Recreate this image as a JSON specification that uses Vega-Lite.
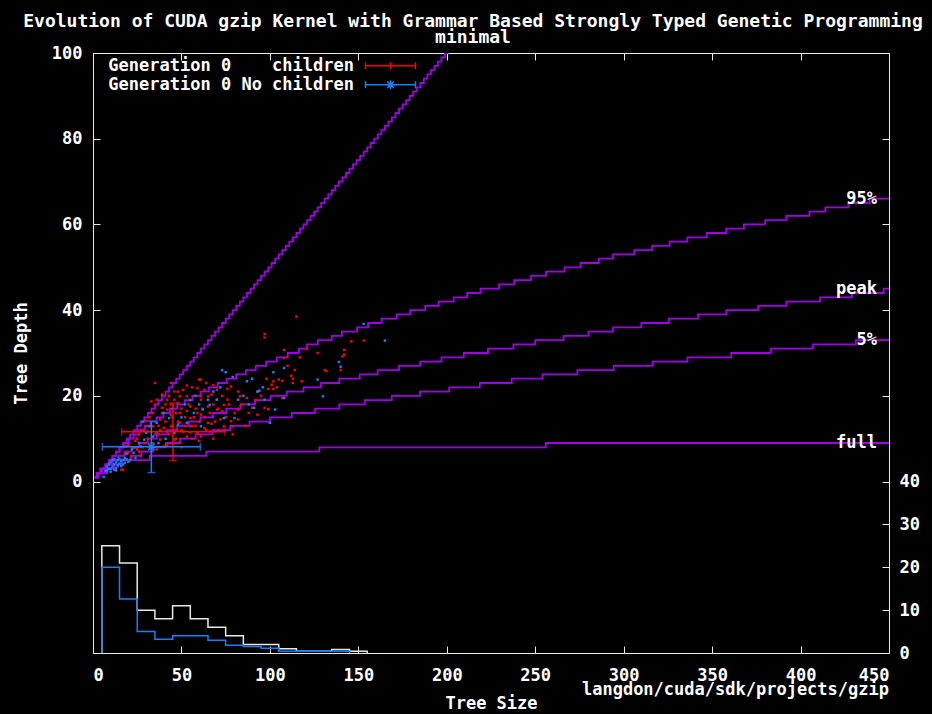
{
"$schema": "https://vega.github.io/schema/vega-lite/v6.json",
"width": 796, "height": 600,
"autosize": "none",
"padding": {"left": 93, "top": 53, "right": 43, "bottom": 61},
"background": "black",
"title": {"text": "Evolution of CUDA gzip Kernel with Grammar Based Strongly Typed Genetic Programming", "subtitle": "minimal", "color": "white", "subtitleColor": "white", "font": "DejaVu Sans Mono", "subtitleFont": "DejaVu Sans Mono", "fontSize": 18, "subtitleFontSize": 18, "fontWeight": "bold", "subtitleFontWeight": "bold", "subtitlePadding": -2, "anchor": "middle", "frame": "group", "offset": -3, "dx": -18},
"config": {
  "view": {"stroke": "#e8e8e8", "strokeWidth": 1, "fill": "black"},
  "axis": {"domain": false, "grid": false, "tickColor": "#e8e8e8", "tickSize": -7, "labelColor": "white", "labelFont": "DejaVu Sans Mono", "labelFontSize": 17, "labelFontWeight": "bold", "titleColor": "white", "titleFont": "DejaVu Sans Mono", "titleFontSize": 17, "titleFontWeight": "bold"},
  "legend": {"labelColor": "white", "labelFont": "DejaVu Sans Mono", "labelFontSize": 17, "labelFontWeight": "bold", "labelLimit": 0, "padding": 0, "rowPadding": -1, "symbolOpacity": 1, "symbolStrokeWidth": 1.5, "symbolSize": 400}
},
"datasets": {
"curves": [
{"curve":"diag","size":1,"depth":1},{"curve":"diag","size":3,"depth":2},{"curve":"diag","size":5,"depth":3},{"curve":"diag","size":7,"depth":4},{"curve":"diag","size":9,"depth":5},{"curve":"diag","size":11,"depth":6},{"curve":"diag","size":13,"depth":7},{"curve":"diag","size":15,"depth":8},{"curve":"diag","size":17,"depth":9},{"curve":"diag","size":19,"depth":10},
{"curve":"diag","size":21,"depth":11},{"curve":"diag","size":23,"depth":12},{"curve":"diag","size":25,"depth":13},{"curve":"diag","size":27,"depth":14},{"curve":"diag","size":29,"depth":15},{"curve":"diag","size":31,"depth":16},{"curve":"diag","size":33,"depth":17},{"curve":"diag","size":35,"depth":18},{"curve":"diag","size":37,"depth":19},{"curve":"diag","size":39,"depth":20},
{"curve":"diag","size":41,"depth":21},{"curve":"diag","size":43,"depth":22},{"curve":"diag","size":45,"depth":23},{"curve":"diag","size":47,"depth":24},{"curve":"diag","size":49,"depth":25},{"curve":"diag","size":51,"depth":26},{"curve":"diag","size":53,"depth":27},{"curve":"diag","size":55,"depth":28},{"curve":"diag","size":57,"depth":29},{"curve":"diag","size":59,"depth":30},
{"curve":"diag","size":61,"depth":31},{"curve":"diag","size":63,"depth":32},{"curve":"diag","size":65,"depth":33},{"curve":"diag","size":67,"depth":34},{"curve":"diag","size":69,"depth":35},{"curve":"diag","size":71,"depth":36},{"curve":"diag","size":73,"depth":37},{"curve":"diag","size":75,"depth":38},{"curve":"diag","size":77,"depth":39},{"curve":"diag","size":79,"depth":40},
{"curve":"diag","size":81,"depth":41},{"curve":"diag","size":83,"depth":42},{"curve":"diag","size":85,"depth":43},{"curve":"diag","size":87,"depth":44},{"curve":"diag","size":89,"depth":45},{"curve":"diag","size":91,"depth":46},{"curve":"diag","size":93,"depth":47},{"curve":"diag","size":95,"depth":48},{"curve":"diag","size":97,"depth":49},{"curve":"diag","size":99,"depth":50},
{"curve":"diag","size":101,"depth":51},{"curve":"diag","size":103,"depth":52},{"curve":"diag","size":105,"depth":53},{"curve":"diag","size":107,"depth":54},{"curve":"diag","size":109,"depth":55},{"curve":"diag","size":111,"depth":56},{"curve":"diag","size":113,"depth":57},{"curve":"diag","size":115,"depth":58},{"curve":"diag","size":117,"depth":59},{"curve":"diag","size":119,"depth":60},
{"curve":"diag","size":121,"depth":61},{"curve":"diag","size":123,"depth":62},{"curve":"diag","size":125,"depth":63},{"curve":"diag","size":127,"depth":64},{"curve":"diag","size":129,"depth":65},{"curve":"diag","size":131,"depth":66},{"curve":"diag","size":133,"depth":67},{"curve":"diag","size":135,"depth":68},{"curve":"diag","size":137,"depth":69},{"curve":"diag","size":139,"depth":70},
{"curve":"diag","size":141,"depth":71},{"curve":"diag","size":143,"depth":72},{"curve":"diag","size":145,"depth":73},{"curve":"diag","size":147,"depth":74},{"curve":"diag","size":149,"depth":75},{"curve":"diag","size":151,"depth":76},{"curve":"diag","size":153,"depth":77},{"curve":"diag","size":155,"depth":78},{"curve":"diag","size":157,"depth":79},{"curve":"diag","size":159,"depth":80},
{"curve":"diag","size":161,"depth":81},{"curve":"diag","size":163,"depth":82},{"curve":"diag","size":165,"depth":83},{"curve":"diag","size":167,"depth":84},{"curve":"diag","size":169,"depth":85},{"curve":"diag","size":171,"depth":86},{"curve":"diag","size":173,"depth":87},{"curve":"diag","size":175,"depth":88},{"curve":"diag","size":177,"depth":89},{"curve":"diag","size":179,"depth":90},
{"curve":"diag","size":181,"depth":91},{"curve":"diag","size":183,"depth":92},{"curve":"diag","size":185,"depth":93},{"curve":"diag","size":187,"depth":94},{"curve":"diag","size":189,"depth":95},{"curve":"diag","size":191,"depth":96},{"curve":"diag","size":193,"depth":97},{"curve":"diag","size":195,"depth":98},{"curve":"diag","size":197,"depth":99},{"curve":"diag","size":199,"depth":100},{"curve":"diag","size":201,"depth":100},
{"curve":"95%","size":1,"depth":1},{"curve":"95%","size":3,"depth":2},{"curve":"95%","size":5,"depth":3},{"curve":"95%","size":7,"depth":4},{"curve":"95%","size":9,"depth":5},{"curve":"95%","size":11,"depth":6},{"curve":"95%","size":13,"depth":7},{"curve":"95%","size":15,"depth":8},{"curve":"95%","size":17.5,"depth":9},{"curve":"95%","size":20.3,"depth":10},
{"curve":"95%","size":23,"depth":11},{"curve":"95%","size":26,"depth":12},{"curve":"95%","size":29.2,"depth":13},{"curve":"95%","size":32.5,"depth":14},{"curve":"95%","size":36,"depth":15},{"curve":"95%","size":39.7,"depth":16},{"curve":"95%","size":43.5,"depth":17},{"curve":"95%","size":47.6,"depth":18},{"curve":"95%","size":51.8,"depth":19},{"curve":"95%","size":56.2,"depth":20},
{"curve":"95%","size":60.8,"depth":21},{"curve":"95%","size":65.5,"depth":22},{"curve":"95%","size":70.5,"depth":23},{"curve":"95%","size":75.6,"depth":24},{"curve":"95%","size":80.9,"depth":25},{"curve":"95%","size":86.4,"depth":26},{"curve":"95%","size":92,"depth":27},{"curve":"95%","size":97.9,"depth":28},{"curve":"95%","size":103.9,"depth":29},{"curve":"95%","size":110.1,"depth":30},
{"curve":"95%","size":116.4,"depth":31},{"curve":"95%","size":121,"depth":32},{"curve":"95%","size":127.1,"depth":33},{"curve":"95%","size":135,"depth":34},{"curve":"95%","size":140.7,"depth":35},{"curve":"95%","size":149.3,"depth":36},{"curve":"95%","size":155.5,"depth":37},{"curve":"95%","size":163.2,"depth":38},{"curve":"95%","size":171.7,"depth":39},{"curve":"95%","size":179.3,"depth":40},
{"curve":"95%","size":187.8,"depth":41},{"curve":"95%","size":195.4,"depth":42},{"curve":"95%","size":203.9,"depth":43},{"curve":"95%","size":211.5,"depth":44},{"curve":"95%","size":219.1,"depth":45},{"curve":"95%","size":229.6,"depth":46},{"curve":"95%","size":238.1,"depth":47},{"curve":"95%","size":247.6,"depth":48},{"curve":"95%","size":256.1,"depth":49},{"curve":"95%","size":266.6,"depth":50},
{"curve":"95%","size":275.6,"depth":51},{"curve":"95%","size":285.9,"depth":52},{"curve":"95%","size":294,"depth":53},{"curve":"95%","size":306,"depth":54},{"curve":"95%","size":316,"depth":55},{"curve":"95%","size":326,"depth":56},{"curve":"95%","size":336,"depth":57},{"curve":"95%","size":347,"depth":58},{"curve":"95%","size":358,"depth":59},{"curve":"95%","size":368,"depth":60},
{"curve":"95%","size":380,"depth":61},{"curve":"95%","size":392,"depth":62},{"curve":"95%","size":405,"depth":63},{"curve":"95%","size":414,"depth":64},{"curve":"95%","size":427,"depth":65},{"curve":"95%","size":439,"depth":66},{"curve":"95%","size":450,"depth":66},
{"curve":"peak","size":1,"depth":1},{"curve":"peak","size":3,"depth":2},{"curve":"peak","size":5,"depth":3},{"curve":"peak","size":8,"depth":4},{"curve":"peak","size":11.2,"depth":5},{"curve":"peak","size":14.3,"depth":6},{"curve":"peak","size":17.9,"depth":7},{"curve":"peak","size":21.9,"depth":8},{"curve":"peak","size":26.2,"depth":9},{"curve":"peak","size":31,"depth":10},
{"curve":"peak","size":36.1,"depth":11},{"curve":"peak","size":41.7,"depth":12},{"curve":"peak","size":47.6,"depth":13},{"curve":"peak","size":54,"depth":14},{"curve":"peak","size":60.7,"depth":15},{"curve":"peak","size":67.9,"depth":16},{"curve":"peak","size":75.4,"depth":17},{"curve":"peak","size":83.3,"depth":18},{"curve":"peak","size":91.6,"depth":19},{"curve":"peak","size":100.4,"depth":20},
{"curve":"peak","size":109.5,"depth":21},{"curve":"peak","size":119,"depth":22},{"curve":"peak","size":128.9,"depth":23},{"curve":"peak","size":139.2,"depth":24},{"curve":"peak","size":150.8,"depth":25},{"curve":"peak","size":160.9,"depth":26},{"curve":"peak","size":173,"depth":27},{"curve":"peak","size":185,"depth":28},{"curve":"peak","size":197,"depth":29},{"curve":"peak","size":209.6,"depth":30},
{"curve":"peak","size":223.3,"depth":31},{"curve":"peak","size":237.7,"depth":32},{"curve":"peak","size":250,"depth":33},{"curve":"peak","size":266.1,"depth":34},{"curve":"peak","size":280,"depth":35},{"curve":"peak","size":294,"depth":36},{"curve":"peak","size":310,"depth":37},{"curve":"peak","size":325.5,"depth":38},{"curve":"peak","size":342,"depth":39},{"curve":"peak","size":358,"depth":40},
{"curve":"peak","size":376,"depth":41},{"curve":"peak","size":392,"depth":42},{"curve":"peak","size":411,"depth":43},{"curve":"peak","size":429,"depth":44},{"curve":"peak","size":447,"depth":45},{"curve":"peak","size":450,"depth":45},
{"curve":"5%","size":1,"depth":1},{"curve":"5%","size":3,"depth":2},{"curve":"5%","size":8,"depth":3},{"curve":"5%","size":11.8,"depth":4},{"curve":"5%","size":16.2,"depth":5},{"curve":"5%","size":21.4,"depth":6},{"curve":"5%","size":27.3,"depth":7},{"curve":"5%","size":33.9,"depth":8},{"curve":"5%","size":41.2,"depth":9},{"curve":"5%","size":49.2,"depth":10},
{"curve":"5%","size":58,"depth":11},{"curve":"5%","size":67.5,"depth":12},{"curve":"5%","size":77.6,"depth":13},{"curve":"5%","size":88.5,"depth":14},{"curve":"5%","size":100.1,"depth":15},{"curve":"5%","size":112.4,"depth":16},{"curve":"5%","size":125.5,"depth":17},{"curve":"5%","size":139.2,"depth":18},{"curve":"5%","size":153.7,"depth":19},{"curve":"5%","size":168.9,"depth":20},
{"curve":"5%","size":184.8,"depth":21},{"curve":"5%","size":201.4,"depth":22},{"curve":"5%","size":218.7,"depth":23},{"curve":"5%","size":236.7,"depth":24},{"curve":"5%","size":254.2,"depth":25},{"curve":"5%","size":273.8,"depth":26},{"curve":"5%","size":294.4,"depth":27},{"curve":"5%","size":316.4,"depth":28},{"curve":"5%","size":336.1,"depth":29},{"curve":"5%","size":360.8,"depth":30},
{"curve":"5%","size":383.2,"depth":31},{"curve":"5%","size":407,"depth":32},{"curve":"5%","size":431.2,"depth":33},{"curve":"5%","size":450,"depth":33},
{"curve":"full","size":1,"depth":1},{"curve":"full","size":2,"depth":2},{"curve":"full","size":4,"depth":3},{"curve":"full","size":8,"depth":4},{"curve":"full","size":16,"depth":5},{"curve":"full","size":32,"depth":6},{"curve":"full","size":64,"depth":7},{"curve":"full","size":128,"depth":8},{"curve":"full","size":256,"depth":9},{"curve":"full","size":450,"depth":9}
],
"hist": [
{"series":"all","i":0,"size":5,"count":0},{"series":"all","i":1,"size":5,"count":25},{"series":"all","i":2,"size":15,"count":21},{"series":"all","i":3,"size":25,"count":10},{"series":"all","i":4,"size":35,"count":8},{"series":"all","i":5,"size":45,"count":11},{"series":"all","i":6,"size":55,"count":8},{"series":"all","i":7,"size":65,"count":6},{"series":"all","i":8,"size":75,"count":4},{"series":"all","i":9,"size":85,"count":2},{"series":"all","i":10,"size":105,"count":1},{"series":"all","i":11,"size":115,"count":0.4},{"series":"all","i":12,"size":135,"count":0.8},{"series":"all","i":13,"size":145,"count":0.4},{"series":"all","i":14,"size":155,"count":0},
{"series":"nc","i":0,"size":5,"count":0},{"series":"nc","i":1,"size":5,"count":20},{"series":"nc","i":2,"size":15,"count":12.6},{"series":"nc","i":3,"size":25,"count":5},{"series":"nc","i":4,"size":35,"count":3.2},{"series":"nc","i":5,"size":45,"count":4},{"series":"nc","i":6,"size":65,"count":3},{"series":"nc","i":7,"size":75,"count":1.8},{"series":"nc","i":8,"size":85,"count":1.5},{"series":"nc","i":9,"size":95,"count":1.1},{"series":"nc","i":10,"size":105,"count":0.4},{"series":"nc","i":11,"size":145,"count":0}
],
"bars": [
{"series":"c","size":45.2,"depth":11.6,"slo":16.2,"shi":74.6,"dlo":4.9,"dhi":18.3},
{"series":"n","size":33,"depth":8.1,"slo":5.3,"shi":60.7,"dlo":2.1,"dhi":14.1}
],
"pts": [
{"series":"c","size":115,"depth":38.5},{"series":"c","size":97,"depth":34.4},{"series":"c","size":97,"depth":33.6},{"series":"c","size":108,"depth":30.7},{"series":"c","size":108,"depth":28.8},{"series":"c","size":127,"depth":30},{"series":"c","size":142,"depth":30.7},{"series":"c","size":142,"depth":29.6},{"series":"c","size":146,"depth":32.7},{"series":"c","size":153,"depth":32.9},
{"series":"c","size":141,"depth":29.2},{"series":"c","size":131,"depth":26},{"series":"c","size":132,"depth":25.8},{"series":"c","size":140,"depth":26},{"series":"c","size":105,"depth":23.8},{"series":"c","size":113,"depth":24},{"series":"c","size":113,"depth":23},{"series":"c","size":118,"depth":23.4},{"series":"c","size":102,"depth":23.4},{"series":"c","size":101,"depth":22.6},
{"series":"c","size":99,"depth":21.6},{"series":"c","size":102,"depth":21.6},{"series":"c","size":107,"depth":23.5},{"series":"c","size":97,"depth":17.2},{"series":"c","size":99,"depth":16.9},{"series":"c","size":93,"depth":15.6},{"series":"c","size":90,"depth":17.2},{"series":"c","size":74,"depth":12.9},{"series":"c","size":79,"depth":12.9},{"series":"c","size":61,"depth":23.8},
{"series":"c","size":53,"depth":22.4},{"series":"c","size":44,"depth":23},{"series":"c","size":46,"depth":21},{"series":"c","size":35,"depth":17.9},{"series":"c","size":39,"depth":17.2},{"series":"c","size":60,"depth":23.8},{"series":"c","size":70,"depth":21.4},{"series":"c","size":76,"depth":21.6},{"series":"c","size":78,"depth":22.2},{"series":"c","size":82,"depth":21},
{"series":"c","size":83,"depth":19.9},{"series":"c","size":76,"depth":19.1},{"series":"c","size":70,"depth":19.1},{"series":"c","size":61,"depth":19.1},{"series":"c","size":55,"depth":17.5},{"series":"c","size":65,"depth":17.5},{"series":"c","size":70,"depth":16.8},{"series":"c","size":61,"depth":15.6},{"series":"c","size":55,"depth":14.8},{"series":"c","size":49,"depth":16},
{"series":"c","size":49,"depth":13.7},{"series":"c","size":44,"depth":12.9},{"series":"c","size":38,"depth":14.5},{"series":"c","size":34,"depth":12.9},{"series":"c","size":42,"depth":16.8},{"series":"c","size":55,"depth":12.9},{"series":"c","size":65,"depth":13.7},{"series":"c","size":66,"depth":11.7},{"series":"c","size":59,"depth":11.4},{"series":"c","size":51,"depth":11.7},
{"series":"c","size":46,"depth":9.8},{"series":"c","size":38,"depth":9.8},{"series":"c","size":31,"depth":11.7},{"series":"c","size":29,"depth":9},{"series":"c","size":25,"depth":7.5},{"series":"c","size":20,"depth":6.7},{"series":"c","size":17,"depth":5.1},{"series":"c","size":14,"depth":3.6},{"series":"c","size":21,"depth":5.1},{"series":"c","size":27,"depth":5.9},
{"series":"c","size":36,"depth":7.5},{"series":"c","size":40,"depth":8.2},{"series":"c","size":49,"depth":9},{"series":"c","size":34,"depth":16},{"series":"c","size":30,"depth":14.1},{"series":"c","size":36,"depth":19.1},{"series":"c","size":39,"depth":20.3},{"series":"c","size":46,"depth":19.1},{"series":"c","size":48,"depth":18.3},{"series":"c","size":61,"depth":19.9},
{"series":"c","size":63,"depth":21.4},{"series":"c","size":67,"depth":20.3},{"series":"c","size":74,"depth":17.9},{"series":"c","size":82,"depth":16.8},{"series":"c","size":87,"depth":19.5},{"series":"c","size":93,"depth":21},{"series":"c","size":82,"depth":14.5},{"series":"c","size":78,"depth":14.1},{"series":"c","size":72,"depth":14.5},{"series":"c","size":73,"depth":16.4},
{"series":"c","size":51,"depth":21.4},{"series":"c","size":59,"depth":21.8},{"series":"c","size":65,"depth":19.9},{"series":"c","size":53,"depth":19.9},{"series":"c","size":49,"depth":19.9},{"series":"c","size":42,"depth":19.1},{"series":"c","size":33,"depth":18.7},{"series":"c","size":35,"depth":23},{"series":"c","size":16,"depth":2.8},{"series":"c","size":17,"depth":2.7},
{"series":"c","size":23,"depth":7.9},{"series":"c","size":19,"depth":8.2},{"series":"c","size":114,"depth":26},{"series":"c","size":112,"depth":24.7},{"series":"c","size":107,"depth":19.5},{"series":"c","size":57,"depth":15},{"series":"c","size":52,"depth":13},{"series":"c","size":47,"depth":12},{"series":"c","size":43,"depth":11},{"series":"c","size":41,"depth":14},
{"series":"c","size":45,"depth":15},{"series":"c","size":56,"depth":10},{"series":"c","size":60,"depth":9.5},{"series":"c","size":68,"depth":10},{"series":"c","size":30,"depth":13},{"series":"c","size":26,"depth":11},{"series":"c","size":24,"depth":9.5},{"series":"c","size":33,"depth":8},{"series":"c","size":38,"depth":12},{"series":"c","size":53,"depth":16.5},
{"series":"c","size":63,"depth":15},{"series":"c","size":67,"depth":13.5},{"series":"c","size":58,"depth":17},{"series":"c","size":44,"depth":18},{"series":"c","size":71,"depth":12},{"series":"c","size":79,"depth":11},{"series":"c","size":86,"depth":13},
{"series":"c","size":25,"depth":10},{"series":"c","size":28,"depth":12},{"series":"c","size":32,"depth":15},{"series":"c","size":35,"depth":11},{"series":"c","size":37,"depth":13},{"series":"c","size":39,"depth":16},{"series":"c","size":41,"depth":18},{"series":"c","size":43,"depth":20},{"series":"c","size":45,"depth":13},{"series":"c","size":47,"depth":16},
{"series":"c","size":48,"depth":14},{"series":"c","size":50,"depth":12},{"series":"c","size":50,"depth":17},{"series":"c","size":52,"depth":15},{"series":"c","size":54,"depth":18},{"series":"c","size":56,"depth":13},{"series":"c","size":57,"depth":20},{"series":"c","size":59,"depth":16},{"series":"c","size":60,"depth":14},{"series":"c","size":62,"depth":17},
{"series":"c","size":64,"depth":12},{"series":"c","size":66,"depth":16},{"series":"c","size":68,"depth":18},{"series":"c","size":69,"depth":14},{"series":"c","size":71,"depth":17},{"series":"c","size":73,"depth":20},{"series":"c","size":75,"depth":15},{"series":"c","size":77,"depth":18},{"series":"c","size":80,"depth":16},{"series":"c","size":84,"depth":18},
{"series":"c","size":88,"depth":16},{"series":"c","size":92,"depth":19},{"series":"c","size":95,"depth":20},{"series":"c","size":98,"depth":24},{"series":"c","size":104,"depth":22},{"series":"c","size":110,"depth":27},{"series":"c","size":117,"depth":29},{"series":"c","size":121,"depth":31},{"series":"c","size":28,"depth":8},{"series":"c","size":31,"depth":10},
{"series":"c","size":34,"depth":9},{"series":"c","size":37,"depth":11},{"series":"c","size":40,"depth":12.5},{"series":"c","size":42,"depth":8.5},{"series":"c","size":44,"depth":15.5},{"series":"c","size":47,"depth":10},{"series":"c","size":50,"depth":8},{"series":"c","size":53,"depth":10.5},{"series":"c","size":55,"depth":11.5},{"series":"c","size":58,"depth":13},
{"series":"c","size":61,"depth":10.5},{"series":"c","size":63,"depth":12.5},{"series":"c","size":26,"depth":7},{"series":"c","size":22,"depth":6},{"series":"c","size":18,"depth":6.5},{"series":"c","size":20,"depth":8.5},{"series":"c","size":48,"depth":21},{"series":"c","size":56,"depth":22},{"series":"c","size":64,"depth":23},{"series":"c","size":68,"depth":22.5},
{"series":"n","size":153,"depth":36.8},{"series":"n","size":165,"depth":32.9},{"series":"n","size":139,"depth":27.9},{"series":"n","size":140,"depth":26.8},{"series":"n","size":127,"depth":23.8},{"series":"n","size":130,"depth":19.9},{"series":"n","size":108,"depth":26.5},{"series":"n","size":102,"depth":25.5},{"series":"n","size":87,"depth":23.4},{"series":"n","size":90,"depth":24},
{"series":"n","size":82,"depth":19.1},{"series":"n","size":91,"depth":17.2},{"series":"n","size":93,"depth":21},{"series":"n","size":94,"depth":21.2},{"series":"n","size":73,"depth":26},{"series":"n","size":75,"depth":25.5},{"series":"n","size":79,"depth":24.4},{"series":"n","size":70,"depth":19.1},{"series":"n","size":66,"depth":17.9},{"series":"n","size":62,"depth":16.8},
{"series":"n","size":74,"depth":14.8},{"series":"n","size":80,"depth":14.8},{"series":"n","size":100,"depth":13.7},{"series":"n","size":97,"depth":19.1},{"series":"n","size":103,"depth":16.8},{"series":"n","size":108,"depth":19.5},{"series":"n","size":57,"depth":16},{"series":"n","size":53,"depth":13.7},{"series":"n","size":61,"depth":12.9},{"series":"n","size":46,"depth":11.4},
{"series":"n","size":36,"depth":13.7},{"series":"n","size":32,"depth":12.9},{"series":"n","size":29,"depth":9.8},{"series":"n","size":27,"depth":8.2},{"series":"n","size":23,"depth":6.7},{"series":"n","size":65,"depth":19.1},{"series":"n","size":43,"depth":14.8},{"series":"n","size":48,"depth":13.3},{"series":"n","size":30,"depth":11.4},{"series":"n","size":52,"depth":18},
{"series":"n","size":58,"depth":20},{"series":"n","size":41,"depth":10},{"series":"n","size":37,"depth":9},{"series":"n","size":28,"depth":14},{"series":"n","size":34,"depth":10.5},
{"series":"n","size":40,"depth":16},{"series":"n","size":45,"depth":17},{"series":"n","size":50,"depth":15},{"series":"n","size":55,"depth":19},{"series":"n","size":60,"depth":18},{"series":"n","size":68,"depth":21},{"series":"n","size":72,"depth":22},{"series":"n","size":85,"depth":20},{"series":"n","size":88,"depth":18},{"series":"n","size":96,"depth":22},
{"series":"n","size":36,"depth":11.5},{"series":"n","size":26,"depth":9},{"series":"n","size":22,"depth":7.5},{"series":"n","size":19,"depth":6.5},{"series":"n","size":24,"depth":5.5},
{"series":"n","size":8,"depth":3.5},{"series":"n","size":9,"depth":4},{"series":"n","size":10,"depth":3},{"series":"n","size":10,"depth":4.5},{"series":"n","size":11,"depth":3.5},{"series":"n","size":11,"depth":5},{"series":"n","size":12,"depth":4},{"series":"n","size":12,"depth":2.8},{"series":"n","size":13,"depth":4.5},{"series":"n","size":13,"depth":3.2},
{"series":"n","size":14,"depth":5},{"series":"n","size":14,"depth":3.8},{"series":"n","size":15,"depth":4.2},{"series":"n","size":15,"depth":5.3},{"series":"n","size":16,"depth":4.8},{"series":"n","size":16,"depth":3.6},{"series":"n","size":17,"depth":5},{"series":"n","size":18,"depth":4.4},{"series":"n","size":19,"depth":5.2},{"series":"n","size":20,"depth":4.6},
{"series":"n","size":9,"depth":3},{"series":"n","size":8,"depth":2.6},{"series":"n","size":12,"depth":5.2},{"series":"n","size":17,"depth":4},{"series":"n","size":21,"depth":5},{"series":"n","size":6,"depth":1.1},{"series":"n","size":7,"depth":2.5},{"series":"n","size":10,"depth":2.3},{"series":"n","size":13,"depth":2.6},{"series":"n","size":18,"depth":5.5}
]
},
"resolve": {"scale": {"y": "independent"}, "axis": {"x": "independent", "y": "independent"}},
"layer": [
{
  "data": {"name": "curves"},
  "mark": {"type": "line", "interpolate": "step-after", "color": "#a000e8", "strokeWidth": 1.8, "clip": true},
  "encoding": {
    "x": {"field": "size", "type": "quantitative", "scale": {"domain": [0, 450], "nice": false, "zero": false}, "axis": {"orient": "bottom", "values": [0,50,100,150,200,250,300,350,400,450], "title": "Tree Size", "labelPadding": 21, "titlePadding": 12}},
    "y": {"field": "depth", "type": "quantitative", "scale": {"domain": [-40, 100], "nice": false, "zero": false}, "axis": {"orient": "left", "values": [0,20,40,60,80,100], "title": "Tree Depth", "labelPadding": 18, "titlePadding": 21}},
    "detail": {"field": "curve"}
  }
},
{
  "data": {"name": "curves"},
  "transform": [{"filter": "datum.size == 450"}],
  "mark": {"type": "text", "color": "white", "font": "DejaVu Sans Mono", "fontSize": 17, "fontWeight": "bold", "align": "right", "baseline": "middle", "dx": -12},
  "encoding": {
    "x": {"field": "size", "type": "quantitative", "scale": {"domain": [0, 450], "nice": false, "zero": false}, "axis": null},
    "y": {"field": "depth", "type": "quantitative", "scale": {"domain": [-40, 100], "nice": false, "zero": false}, "axis": null},
    "text": {"field": "curve"}
  }
},
{
  "data": {"name": "hist"},
  "transform": [{"filter": "datum.series == 'all'"}],
  "mark": {"type": "line", "interpolate": "step-after", "color": "#e8e8e8", "strokeWidth": 1.5},
  "encoding": {
    "x": {"field": "size", "type": "quantitative", "scale": {"domain": [0, 450], "nice": false, "zero": false}, "axis": null},
    "y": {"field": "count", "type": "quantitative", "scale": {"domain": [0, 140], "nice": false, "zero": false}, "axis": {"orient": "right", "values": [0,10,20,30,40,60,80,100,120,140], "labelExpr": "datum.value <= 40 ? datum.label : ''", "title": null, "labelPadding": 17}},
    "order": {"field": "i", "type": "quantitative"}
  }
},
{
  "data": {"name": "hist"},
  "transform": [{"filter": "datum.series == 'nc'"}],
  "mark": {"type": "line", "interpolate": "step-after", "color": "#0a84ff", "strokeWidth": 1.5},
  "encoding": {
    "x": {"field": "size", "type": "quantitative", "scale": {"domain": [0, 450], "nice": false, "zero": false}, "axis": null},
    "y": {"field": "count", "type": "quantitative", "scale": {"domain": [0, 140], "nice": false, "zero": false}, "axis": null},
    "order": {"field": "i", "type": "quantitative"}
  }
},
{
  "data": {"name": "pts"},
  "transform": [{"filter": "datum.series == 'c'"}],
  "mark": {"type": "square", "color": "#ff0000", "size": 6, "opacity": 1},
  "encoding": {
    "x": {"field": "size", "type": "quantitative", "scale": {"domain": [0, 450], "nice": false, "zero": false}, "axis": {"orient": "top", "values": [0,50,100,150,200,250,300,350,400,450], "labels": false, "title": null}},
    "y": {"field": "depth", "type": "quantitative", "scale": {"domain": [-40, 100], "nice": false, "zero": false}, "axis": null}
  }
},
{
  "data": {"name": "pts"},
  "transform": [{"filter": "datum.series == 'n'"}],
  "mark": {"type": "square", "color": "#0a84ff", "size": 6, "opacity": 1},
  "encoding": {
    "x": {"field": "size", "type": "quantitative", "scale": {"domain": [0, 450], "nice": false, "zero": false}, "axis": null},
    "y": {"field": "depth", "type": "quantitative", "scale": {"domain": [-40, 100], "nice": false, "zero": false}, "axis": null}
  }
},
{
  "data": {"name": "bars"},
  "transform": [{"filter": "datum.series == 'c'"}],
  "mark": {"type": "errorbar", "ticks": {"size": 8}, "color": "#ff0000", "thickness": 1.5},
  "encoding": {
    "x": {"field": "slo", "type": "quantitative", "scale": {"domain": [0, 450], "nice": false, "zero": false}, "axis": null},
    "x2": {"field": "shi"},
    "y": {"field": "depth", "type": "quantitative", "scale": {"domain": [-40, 100], "nice": false, "zero": false}, "axis": null}
  }
},
{
  "data": {"name": "bars"},
  "transform": [{"filter": "datum.series == 'c'"}],
  "mark": {"type": "errorbar", "ticks": {"size": 8}, "color": "#ff0000", "thickness": 1.5},
  "encoding": {
    "x": {"field": "size", "type": "quantitative", "scale": {"domain": [0, 450], "nice": false, "zero": false}, "axis": null},
    "y": {"field": "dlo", "type": "quantitative", "scale": {"domain": [-40, 100], "nice": false, "zero": false}, "axis": null},
    "y2": {"field": "dhi"}
  }
},
{
  "data": {"name": "bars"},
  "transform": [{"filter": "datum.series == 'n'"}],
  "mark": {"type": "errorbar", "ticks": {"size": 8}, "color": "#0a84ff", "thickness": 1.5},
  "encoding": {
    "x": {"field": "slo", "type": "quantitative", "scale": {"domain": [0, 450], "nice": false, "zero": false}, "axis": null},
    "x2": {"field": "shi"},
    "y": {"field": "depth", "type": "quantitative", "scale": {"domain": [-40, 100], "nice": false, "zero": false}, "axis": null}
  }
},
{
  "data": {"name": "bars"},
  "transform": [{"filter": "datum.series == 'n'"}],
  "mark": {"type": "errorbar", "ticks": {"size": 8}, "color": "#0a84ff", "thickness": 1.5},
  "encoding": {
    "x": {"field": "size", "type": "quantitative", "scale": {"domain": [0, 450], "nice": false, "zero": false}, "axis": null},
    "y": {"field": "dlo", "type": "quantitative", "scale": {"domain": [-40, 100], "nice": false, "zero": false}, "axis": null},
    "y2": {"field": "dhi"}
  }
},
{
  "data": {"name": "bars"},
  "transform": [{"filter": "datum.series == 'n'"}],
  "mark": {"type": "point", "shape": "M-1,0L1,0M0,-1L0,1M-0.7,-0.7L0.7,0.7M-0.7,0.7L0.7,-0.7", "size": 90, "filled": false, "color": "#0a84ff", "strokeWidth": 1.5, "opacity": 1},
  "encoding": {
    "x": {"field": "size", "type": "quantitative", "scale": {"domain": [0, 450], "nice": false, "zero": false}, "axis": null},
    "y": {"field": "depth", "type": "quantitative", "scale": {"domain": [-40, 100], "nice": false, "zero": false}, "axis": null}
  }
},
{
  "data": {"name": "bars"},
  "mark": {"type": "point", "filled": false, "opacity": 0},
  "encoding": {
    "x": {"field": "size", "type": "quantitative", "scale": {"domain": [0, 450], "nice": false, "zero": false}, "axis": null},
    "y": {"field": "depth", "type": "quantitative", "scale": {"domain": [-40, 100], "nice": false, "zero": false}, "axis": null},
    "color": {"field": "series", "type": "nominal", "scale": {"domain": ["c", "n"], "range": ["#ff0000", "#0a84ff"]}, "legend": {"orient": "none", "legendX": 286.5, "legendY": 1.7, "title": null, "labelAlign": "right", "labelOffset": -47.5, "labelBaseline": "middle", "labelExpr": "datum.value == 'c' ? 'Generation 0\u00a0\u00a0\u00a0\u00a0children' : 'Generation 0 No children'"}},
    "shape": {"field": "series", "type": "nominal", "scale": {"domain": ["c", "n"], "range": ["M-2.5,0H2.5M-2.5,-0.35V0.35M2.5,-0.35V0.35M0,-0.35V0.35", "M-2.5,0H2.5M-2.5,-0.35V0.35M2.5,-0.35V0.35M0,-0.45V0.45M-0.45,0H0.45M-0.32,-0.32L0.32,0.32M-0.32,0.32L0.32,-0.32"]}, "legend": {"orient": "none", "legendX": 286.5, "legendY": 1.7, "title": null, "labelAlign": "right", "labelOffset": -47.5, "labelBaseline": "middle", "labelExpr": "datum.value == 'c' ? 'Generation 0\u00a0\u00a0\u00a0\u00a0children' : 'Generation 0 No children'"}}
  }
},
{
  "data": {"values": [{}]},
  "mark": {"type": "text", "text": "langdon/cuda/sdk/projects/gzip", "color": "white", "font": "DejaVu Sans Mono", "fontSize": 17, "fontWeight": "bold", "align": "right", "baseline": "alphabetic", "dy": 42},
  "encoding": {
    "x": {"datum": 450, "type": "quantitative", "scale": {"domain": [0, 450], "nice": false, "zero": false}, "axis": null},
    "y": {"datum": -40, "type": "quantitative", "scale": {"domain": [-40, 100], "nice": false, "zero": false}, "axis": null}
  }
}
]
}
